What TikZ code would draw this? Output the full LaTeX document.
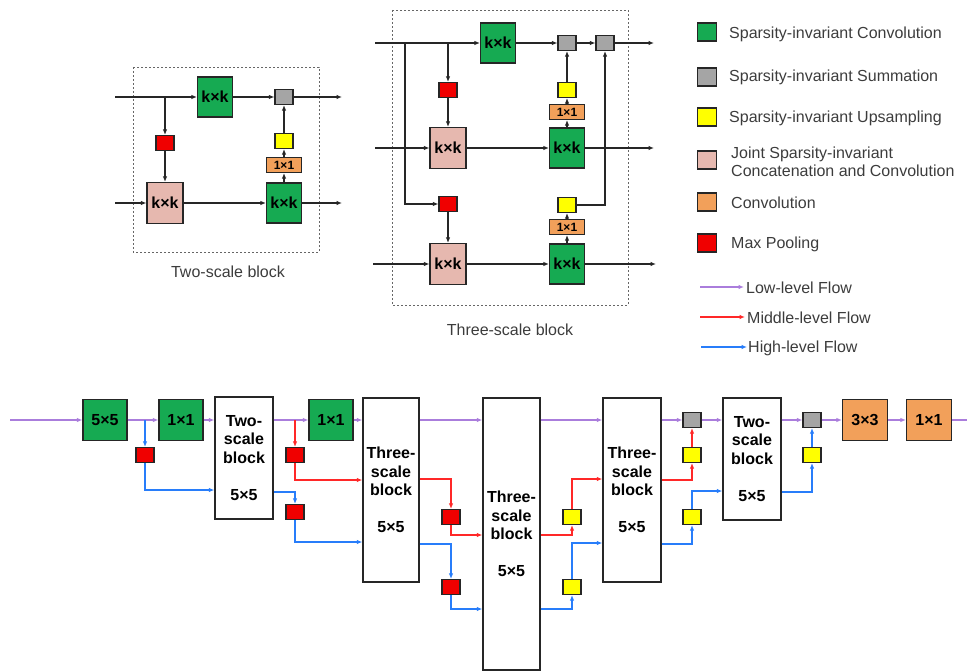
\documentclass[tikz,border=0pt]{standalone}
\usepackage{fontspec}
\setmainfont{Liberation Sans}
\usetikzlibrary{arrows.meta,calc}

\definecolor{sgreen}{RGB}{22,170,82}
\definecolor{sgray}{RGB}{165,165,165}
\definecolor{syellow}{RGB}{255,255,0}
\definecolor{spink}{RGB}{230,184,175}
\definecolor{sorange}{RGB}{242,160,90}
\definecolor{sred}{RGB}{240,0,0}
\definecolor{lowflow}{RGB}{170,125,220}
\definecolor{midflow}{RGB}{255,40,40}
\definecolor{highflow}{RGB}{40,125,250}
\definecolor{captext}{RGB}{60,60,60}

\begin{document}
\begin{tikzpicture}[x=1pt,y=-1pt,
  font=\fontsize{16}{18.5}\selectfont,
  box/.style={draw=black!85, line width=1.1pt, inner sep=0pt, align=center},
  lbl/.style={font=\bfseries\fontsize{16}{18.5}\selectfont},
  kconv/.style={box, lbl, fill=sgreen, minimum width=35, minimum height=40},
  jconv/.style={box, lbl, fill=spink, minimum width=36, minimum height=41},
  ssum/.style={box, fill=sgray, minimum width=18, minimum height=15},
  upbox/.style={box, fill=syellow, minimum width=18, minimum height=15},
  pool/.style={box, fill=sred, minimum width=18, minimum height=15},
  onebox/.style={box, fill=sorange, minimum width=35, minimum height=15,
    font=\bfseries\fontsize{12}{14}\selectfont},
  bigconv/.style={box, lbl, fill=sgreen, minimum width=44, minimum height=41},
  bigorange/.style={box, lbl, fill=sorange, minimum width=45, minimum height=41},
  blk/.style={box, lbl, fill=white, line width=1.3pt},
  legsq/.style={box, minimum width=19, minimum height=18},
  legtxt/.style={anchor=west, inner sep=0pt, align=left, text=captext},
  captxt/.style={text=captext},
  tip/.style={-{Latex[length=5.5pt,width=4.5pt]}},
  wire/.style={draw=black!85, line width=1.1pt},
  arr/.style={wire, tip},
  lflow/.style={draw=lowflow, line width=1.4pt, -{Latex[length=5.5pt,width=4.5pt]}},
  mflow/.style={draw=midflow, line width=1.4pt, -{Latex[length=5.5pt,width=4.5pt]}},
  hflow/.style={draw=highflow, line width=1.4pt, -{Latex[length=5.5pt,width=4.5pt]}},
  dashbox/.style={draw=black!60, line width=0.8pt, dash pattern=on 2pt off 2pt}
]
\useasboundingbox (0,0) rectangle (967,671);

% ---------------- two-scale block ----------------
\draw[dashbox] (133,67) rectangle (319,252);
\node[kconv]  (A-g1) at (215,97)  {k×k};
\node[ssum]   (A-s1) at (284,97)  {};
\node[pool]   (A-p1) at (165,143) {};
\node[jconv]  (A-j1) at (165,203) {k×k};
\node[kconv]  (A-g2) at (284,203) {k×k};
\node[onebox] (A-o1) at (284,165) {1×1};
\node[upbox]  (A-u1) at (284,141) {};
\coordinate (A-in1)  at (115,97);
\coordinate (A-out1) at (342,97);
\coordinate (A-in2)  at (115,203);
\coordinate (A-out2) at (342,203);
\coordinate (A-br)   at (165,97);
\draw[arr] (A-in1) -- (A-g1);
\draw[arr] (A-g1) -- (A-s1);
\draw[arr] (A-s1) -- (A-out1);
\draw[arr] (A-br) -- (A-p1);
\draw[arr] (A-p1) -- (A-j1);
\draw[arr] (A-in2) -- (A-j1);
\draw[arr] (A-j1) -- (A-g2);
\draw[arr] (A-g2) -- (A-out2);
\draw[arr] (A-g2) -- (A-o1);
\draw[arr] (A-o1) -- (A-u1);
\draw[arr] (A-u1) -- (A-s1);
\node[captxt] (A-cap) at (228,272) {Two-scale block};

% ---------------- three-scale block ----------------
\draw[dashbox] (392,10) rectangle (628,305);
\node[kconv]  (B-g1) at (498,43)  {k×k};
\node[ssum]   (B-s1) at (567,43)  {};
\node[ssum]   (B-s2) at (605,43)  {};
\node[pool]   (B-p1) at (448,90)  {};
\node[jconv]  (B-j1) at (448,148) {k×k};
\node[kconv]  (B-g2) at (567,148) {k×k};
\node[onebox] (B-o1) at (567,112) {1×1};
\node[upbox]  (B-u1) at (567,90)  {};
\node[pool]   (B-p2) at (448,204) {};
\node[jconv]  (B-j2) at (448,264) {k×k};
\node[kconv]  (B-g3) at (567,264) {k×k};
\node[onebox] (B-o2) at (567,227) {1×1};
\node[upbox]  (B-u2) at (567,205) {};
\coordinate (B-in1)  at (375,43);
\coordinate (B-out1) at (654,43);
\coordinate (B-in2)  at (375,148);
\coordinate (B-out2) at (654,148);
\coordinate (B-in3)  at (373,264);
\coordinate (B-out3) at (656,264);
\coordinate (B-br1)  at (448,43);
\coordinate (B-br2)  at (405,43);
\draw[arr] (B-in1) -- (B-g1);
\draw[arr] (B-g1) -- (B-s1);
\draw[arr] (B-s1) -- (B-s2);
\draw[arr] (B-s2) -- (B-out1);
\draw[arr] (B-br1) -- (B-p1);
\draw[arr] (B-p1) -- (B-j1);
\draw[arr] (B-br2) |- (B-p2);
\draw[arr] (B-p2) -- (B-j2);
\draw[arr] (B-in2) -- (B-j1);
\draw[arr] (B-j1) -- (B-g2);
\draw[arr] (B-g2) -- (B-out2);
\draw[arr] (B-in3) -- (B-j2);
\draw[arr] (B-j2) -- (B-g3);
\draw[arr] (B-g3) -- (B-out3);
\draw[arr] (B-g2) -- (B-o1);
\draw[arr] (B-o1) -- (B-u1);
\draw[arr] (B-u1) -- (B-s1);
\draw[arr] (B-g3) -- (B-o2);
\draw[arr] (B-o2) -- (B-u2);
\draw[arr] (B-u2) -| (B-s2);
\node[captxt] (B-cap) at (510,330) {Three-scale block};

% ---------------- legend ----------------
\node[legsq, fill=sgreen]  (L-s1) at (707,32)  {};
\node[legsq, fill=sgray]   (L-s2) at (707,77)  {};
\node[legsq, fill=syellow] (L-s3) at (707,117) {};
\node[legsq, fill=spink]   (L-s4) at (707,160) {};
\node[legsq, fill=sorange] (L-s5) at (707,202) {};
\node[legsq, fill=sred]    (L-s6) at (707,243) {};
\node[legtxt] (L-t1) at (729,34)  {Sparsity-invariant Convolution};
\node[legtxt] (L-t2) at (729,77)  {Sparsity-invariant Summation};
\node[legtxt] (L-t3) at (729,118) {Sparsity-invariant Upsampling};
\node[legtxt, font=\fontsize{16}{18}\selectfont] (L-t4) at (731,162)
  {Joint Sparsity-invariant\\Concatenation and Convolution};
\node[legtxt] (L-t5) at (731,203) {Convolution};
\node[legtxt] (L-t6) at (731,244) {Max Pooling};
\coordinate (L-f1a) at (700,287); \coordinate (L-f1b) at (744,287);
\coordinate (L-f2a) at (700,317); \coordinate (L-f2b) at (745,317);
\coordinate (L-f3a) at (701,347); \coordinate (L-f3b) at (747,347);
\draw[lflow] (L-f1a) -- (L-f1b);
\draw[mflow] (L-f2a) -- (L-f2b);
\draw[hflow] (L-f3a) -- (L-f3b);
\node[legtxt] (L-t7) at (746,288) {Low-level Flow};
\node[legtxt] (L-t8) at (747,318) {Middle-level Flow};
\node[legtxt] (L-t9) at (748,348) {High-level Flow};

% ---------------- network ----------------
\node[bigconv] (g55)  at (105,420) {5×5};
\node[bigconv] (g11a) at (181,420) {1×1};
\node[blk, minimum width=58, minimum height=122] (two1) at (244,458)
  {Two-\\scale\\block\\[18.5pt]5×5};
\node[bigconv] (g11b) at (331,420) {1×1};
\node[blk, minimum width=56, minimum height=184] (three1) at (391,490)
  {Three-\\scale\\block\\[18.5pt]5×5};
\node[blk, minimum width=57, minimum height=272] (three2) at (511.5,534)
  {Three-\\scale\\block\\[18.5pt]5×5};
\node[blk, minimum width=58, minimum height=184] (three3) at (632,490)
  {Three-\\scale\\block\\[18.5pt]5×5};
\node[ssum] (sA) at (692,420) {};
\node[blk, minimum width=58, minimum height=122] (two2) at (752,459)
  {Two-\\scale\\block\\[18.5pt]5×5};
\node[ssum] (sB) at (812,420) {};
\node[bigorange] (o33) at (865,420) {3×3};
\node[bigorange] (o11) at (929,420) {1×1};

\node[pool] (rA) at (145,455) {};
\node[pool] (rB) at (295,455) {};
\node[pool] (rC) at (295,512) {};
\node[pool] (rD) at (451,517) {};
\node[pool] (rE) at (451,587) {};
\node[upbox] (yA) at (572,517) {};
\node[upbox] (yB) at (572,587) {};
\node[upbox] (yC) at (692,455) {};
\node[upbox] (yD) at (692,517) {};
\node[upbox] (yE) at (812,455) {};

\coordinate (netin)  at (10,420);
\coordinate (netout) at (967,420);
\coordinate (brA) at (145,420);
\coordinate (brB) at (295,420);

% low-level flow along the top
\draw[lflow] (netin) -- (g55);
\draw[lflow] (g55) -- (g11a);
\draw[lflow] (g11a) -- (two1.west |- 0,420);
\draw[lflow] (two1.east |- 0,420) -- (g11b);
\draw[lflow] (g11b) -- (three1.west |- 0,420);
\draw[lflow] (three1.east |- 0,420) -- (three2.west |- 0,420);
\draw[lflow] (three2.east |- 0,420) -- (three3.west |- 0,420);
\draw[lflow] (three3.east |- 0,420) -- (sA);
\draw[lflow] (sA) -- (two2.west |- 0,420);
\draw[lflow] (two2.east |- 0,420) -- (sB);
\draw[lflow] (sB) -- (o33);
\draw[lflow] (o33) -- (o11);
\draw[draw=lowflow, line width=1.4pt] (o11) -- (netout);

% middle-level flow
\draw[mflow] (brB) -- (rB);
\draw[mflow] (rB) |- (three1.west |- 0,480);
\draw[mflow] (three1.east |- 0,479) -| (rD);
\draw[mflow] (rD) |- (three2.west |- 0,535);
\draw[mflow] (three2.east |- 0,535) -| (yA);
\draw[mflow] (yA) |- (three3.west |- 0,479);
\draw[mflow] (three3.east |- 0,480) -| (yC);
\draw[mflow] (yC) -- (sA);

% high-level flow
\draw[hflow] (brA) -- (rA);
\draw[hflow] (rA) |- (two1.west |- 0,490);
\draw[hflow] (two1.east |- 0,492) -| (rC);
\draw[hflow] (rC) |- (three1.west |- 0,542);
\draw[hflow] (three1.east |- 0,544) -| (rE);
\draw[hflow] (rE) |- (three2.west |- 0,609);
\draw[hflow] (three2.east |- 0,609) -| (yB);
\draw[hflow] (yB) |- (three3.west |- 0,543);
\draw[hflow] (three3.east |- 0,544) -| (yD);
\draw[hflow] (yD) |- (two2.west |- 0,491);
\draw[hflow] (two2.east |- 0,492) -| (yE);
\draw[hflow] (yE) -- (sB);
\end{tikzpicture}
\end{document}
